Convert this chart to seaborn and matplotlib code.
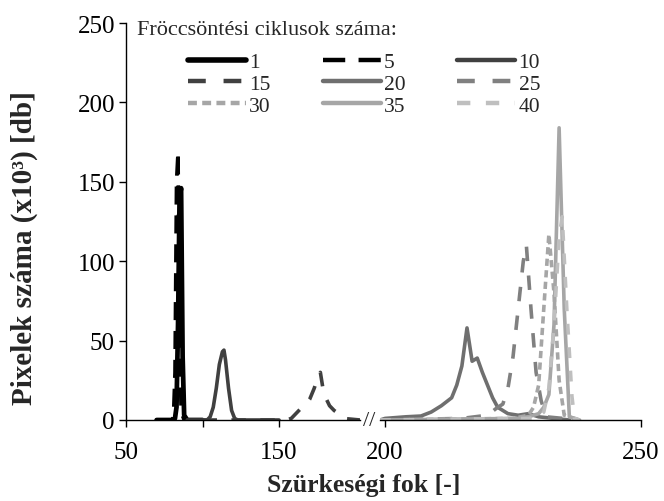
import matplotlib
matplotlib.use("Agg")
import matplotlib.pyplot as plt
import seaborn as sns
from matplotlib.lines import Line2D

# ---- data ----
# left part of the broken axis (50 ... ~203)
x_1 = [70, 80, 82, 83, 84, 85, 86, 87, 88, 90, 100]
y_1 = [0, 0, 1, 8, 60, 140, 146, 40, 3, 0, 0]

x_5 = [70, 80, 81, 82, 83, 84, 85, 86, 88, 100]
y_5 = [0, 0, 2, 30, 150, 169, 60, 5, 0, 0]

x_10 = [90, 103, 105, 107, 109, 111, 113, 114, 115, 117, 119, 121, 123, 150]
y_10 = [0, 0, 2, 8, 20, 35, 43, 44, 38, 20, 6, 1, 0, 0]

x_15 = [100, 155, 158, 161, 164, 167, 170, 173, 175, 177, 179, 181, 183, 186, 189, 192, 203]
y_15 = [0, 0, 1, 4, 7, 9, 13, 20, 26, 30, 18, 13, 9, 6, 4, 1, 0]

# right part of the broken axis (200 ... 250)
x_20 = [199, 200, 204, 207, 209, 211, 213, 214, 215, 216, 217, 218, 219, 220, 221, 222, 224, 226, 228, 230, 233, 236]
y_20 = [0, 1, 2, 2.5, 5, 9, 14, 22, 34, 58, 37, 39, 30, 22, 14, 8, 4, 3, 4, 2, 1, 0]

x_25 = [199, 215, 220, 222, 223, 224, 225, 226, 227, 227.6, 228.5, 229.5, 230.5, 231.5, 238]
y_25 = [0, 1, 3, 8, 10, 20, 40, 70, 100, 110, 70, 30, 12, 2, 0]

x_30 = [199, 225, 228, 229, 230, 231, 232, 233, 234, 235, 238]
y_30 = [0, 1, 3, 8, 22, 70, 117, 80, 25, 3, 0]

x_35 = [199, 226, 228, 230, 231, 232, 233, 234, 235, 236, 238]
y_35 = [0, 1, 2, 4, 8, 16, 60, 184, 70, 2, 0]

x_40 = [199, 228, 230, 231, 232, 233, 234, 234.6, 235.5, 236.5, 237, 238]
y_40 = [0, 1, 2, 5, 20, 60, 115, 128, 70, 15, 1, 0]

labels = ["1", "5", "10", "15", "20", "25", "30", "35", "40"]
colors = ["#000000", "#000000", "#404040", "#404040", "#6f6f6f",
          "#808080", "#a6a6a6", "#a6a6a6", "#bfbfbf"]
styles = ["-", (0, (5, 3)), "-", (0, (4, 4)), "-",
          (0, (4, 4)), (0, (2, 1.2)), "-", (0, (3, 3.5))]
widths = [3.4, 2.6, 2.6, 2.6, 2.6, 2.6, 2.6, 2.6, 2.6]

series = [(x_1, y_1), (x_5, y_5), (x_10, y_10), (x_15, y_15), (x_20, y_20),
          (x_25, y_25), (x_30, y_30), (x_35, y_35), (x_40, y_40)]

# ---- style ----
sns.set_style("ticks")
plt.rcParams["font.family"] = ["Liberation Serif", "DejaVu Serif"]

fig = plt.figure(figsize=(6.64, 5.02), dpi=100)
ax1 = fig.add_axes([126 / 664, 81 / 502, 234 / 664, 397 / 502])
ax2 = fig.add_axes([380 / 664, 81 / 502, 261 / 664, 397 / 502])

for i, (xs, ys) in enumerate(series):
    ax = ax1 if i < 4 else ax2
    sns.lineplot(x=xs, y=ys, ax=ax, color=colors[i], linestyle=styles[i],
                 linewidth=widths[i], estimator=None, sort=False)

# left axis
ax1.set_xlim(50, 202.9)
ax1.set_ylim(0, 250)
ax1.set_xticks([50, 100, 150])
ax1.set_xticklabels(["50", "", "150"])
ax1.set_yticks([0, 50, 100, 150, 200, 250])
sns.despine(ax=ax1)

# right axis
ax2.set_xlim(199, 250)
ax2.set_ylim(0, 250)
ax2.set_xticks([200, 250])
ax2.set_yticks([])
sns.despine(ax=ax2, left=True)

for ax in (ax1, ax2):
    ax.patch.set_alpha(0)
    for sp in ax.spines.values():
        sp.set_linewidth(1.0)
        sp.set_color("black")
    ax.tick_params(labelsize=18, length=5, width=1.0, colors="black")
    ax.tick_params(axis="x", pad=10)
    ax.tick_params(axis="y", pad=3)
    ax.set_xlabel("")
    ax.set_ylabel("")

# axis break marks
fig.text(369 / 664, 1 - 421 / 502, "//", fontsize=16, ha="center", va="center")

# axis titles
fig.text(24 / 664, 1 - 248 / 502, "Pixelek száma (x10³) [db]", rotation=90,
         fontsize=21, fontweight="bold", ha="center", va="center")
fig.text(364 / 664, 1 - 486 / 502, "Szürkeségi fok [-]",
         fontsize=18.5, fontweight="bold", ha="center", va="center")

# legend (row-wise order like the original)
fig.text(137 / 664, 1 - 31 / 502, "Fröccsöntési ciklusok száma:",
         fontsize=16, ha="left", va="center")
order = [0, 3, 6, 1, 4, 7, 2, 5, 8]
handles = [Line2D([], [], color=colors[i], linestyle=styles[i],
                  linewidth=widths[i] + 0.6) for i in order]
fig.legend(handles, [labels[i] for i in order], loc="upper left",
           bbox_to_anchor=(188 / 664, 1 - 53 / 502), ncol=3, frameon=False,
           fontsize=15.5, handlelength=2.7, handletextpad=0.15,
           columnspacing=2.4, labelspacing=0.08, borderpad=0, borderaxespad=0)

fig.savefig("out.png", dpi=100)
